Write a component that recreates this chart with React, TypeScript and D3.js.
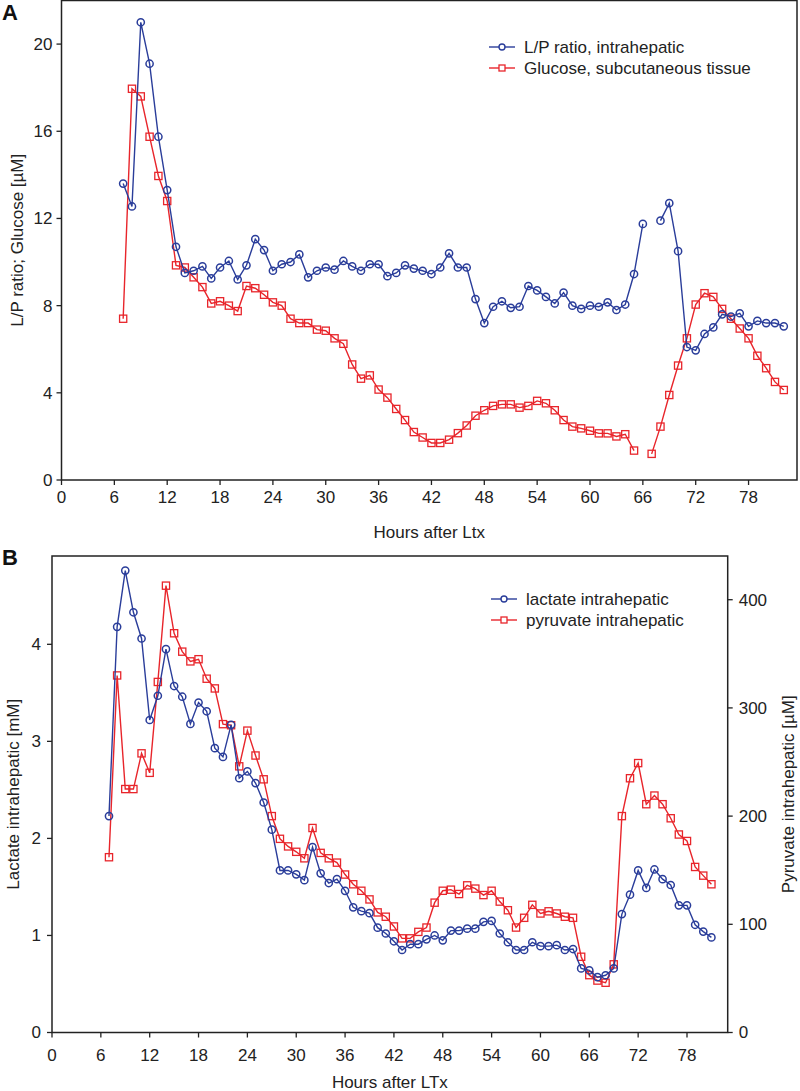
import React from "react";
import * as d3 from "d3";

const hoursA = [7,8,9,10,11,12,13,14,15,16,17,18,19,20,21,22,23,24,25,26,27,28,29,30,31,32,33,34,35,36,37,38,39,40,41,42,43,44,45,46,47,48,49,50,51,52,53,54,55,56,57,58,59,60,61,62,63,64,65,66,67,68,69,70,71,72,73,74,75,76,77,78,79,80,81,82];
const lpRatio: (number | null)[] = [13.6,12.55,21.0,19.1,15.75,13.3,10.7,9.5,9.6,9.8,9.25,9.75,10.05,9.2,9.85,11.05,10.55,9.6,9.9,10.0,10.35,9.3,9.6,9.75,9.65,10.05,9.8,9.6,9.9,9.9,9.35,9.5,9.85,9.7,9.6,9.45,9.75,10.4,9.75,9.75,8.3,7.2,7.95,8.2,7.9,7.95,8.9,8.7,8.4,8.1,8.6,8.0,7.85,8.0,7.95,8.15,7.8,8.05,9.45,11.75,null,11.9,12.7,10.5,6.1,5.95,6.7,7.0,7.6,7.5,7.65,7.05,7.3,7.2,7.2,7.05];
const glucose: (number | null)[] = [7.4,17.95,17.6,15.75,13.95,12.8,9.85,9.75,9.3,8.85,8.1,8.2,8.0,7.75,8.9,8.8,8.5,8.15,8.0,7.4,7.2,7.2,6.9,6.85,6.5,6.25,5.3,4.65,4.8,4.15,3.78,3.26,2.75,2.2,1.95,1.7,1.7,1.85,2.15,2.5,2.95,3.2,3.4,3.47,3.47,3.32,3.4,3.63,3.52,3.2,2.75,2.45,2.37,2.26,2.14,2.14,2.0,2.1,1.35,null,1.2,2.45,3.9,5.25,6.5,8.05,8.57,8.4,7.85,7.4,6.95,6.5,5.7,5.13,4.5,4.13];

const hoursB = [7,8,9,10,11,12,13,14,15,16,17,18,19,20,21,22,23,24,25,26,27,28,29,30,31,32,33,34,35,36,37,38,39,40,41,42,43,44,45,46,47,48,49,50,51,52,53,54,55,56,57,58,59,60,61,62,63,64,65,66,67,68,69,70,71,72,73,74,75,76,77,78,79,80,81];
const lactate: number[] = [2.23,4.18,4.76,4.33,4.06,3.22,3.47,3.95,3.57,3.46,3.18,3.4,3.31,2.93,2.84,3.17,2.62,2.69,2.57,2.37,2.09,1.67,1.67,1.63,1.57,1.91,1.64,1.54,1.58,1.46,1.29,1.25,1.23,1.08,1.02,0.94,0.85,0.91,0.91,0.96,1.0,0.95,1.05,1.05,1.07,1.07,1.14,1.15,1.02,0.93,0.85,0.85,0.93,0.89,0.89,0.9,0.85,0.86,0.66,0.64,0.57,0.59,0.66,1.22,1.42,1.67,1.49,1.68,1.58,1.52,1.31,1.31,1.11,1.04,0.98];
const pyruvate: number[] = [162,330,225,225,258,240,324,413,369,352,343,345,327,318,285,284,246,279,256,234,200,179,172,167,161,189,166,161,157,146,137,131,123,111,107,98,87,87,93,97,120,131,132,128,136,133,127,131,121,113,97,106,118,110,112,110,107,106,70,53,48,46,63,200,235,249,211,219,211,198,183,177,153,145,137];

const xTicks = [0,6,12,18,24,30,36,42,48,54,60,66,72,78];
const yTicksA = [0,4,8,12,16,20];
const yTicksBL = [0,1,2,3,4];
const yTicksBR = [0,100,200,300,400];

const BLUE = "#2a3d9a";
const RED = "#e8252b";
const AX = "#222";
const FONT = "'Liberation Sans', Arial, sans-serif";
const FS = 17;

type P = { h: number; v: number | null };

function Series({ pts, x, y, color, kind }: { pts: P[]; x: d3.ScaleLinear<number, number>; y: d3.ScaleLinear<number, number>; color: string; kind: "circle" | "square" }) {
  const line = d3.line<P>().defined(d => d.v != null).x(d => x(d.h)).y(d => y(d.v as number));
  return (
    <g>
      <path d={line(pts) || ""} fill="none" stroke={color} strokeWidth={1.4} />
      {pts.filter(d => d.v != null).map((d, i) =>
        kind === "circle" ? (
          <circle key={i} cx={x(d.h)} cy={y(d.v as number)} r={3.6} fill="none" stroke={color} strokeWidth={1.5} />
        ) : (
          <rect key={i} x={x(d.h) - 3.6} y={y(d.v as number) - 3.6} width={7.2} height={7.2} fill="none" stroke={color} strokeWidth={1.3} />
        )
      )}
    </g>
  );
}

function Legend({ x, y, items }: { x: number; y: number; items: { label: string; color: string; kind: string }[] }) {
  return (
    <g>
      {items.map((it, i) => (
        <g key={i} transform={`translate(${x},${y + i * 21})`}>
          <line x1={0} x2={26} y1={0} y2={0} stroke={it.color} strokeWidth={1.4} />
          {it.kind === "circle" ? (
            <circle cx={13} cy={0} r={3} fill="#fff" stroke={it.color} strokeWidth={1.4} />
          ) : (
            <rect x={10} y={-3} width={6} height={6} fill="#fff" stroke={it.color} strokeWidth={1.3} />
          )}
          <text x={35} y={0} dy="0.35em" fontSize={FS} fontFamily={FONT} fill={AX}>{it.label}</text>
        </g>
      ))}
    </g>
  );
}

export default function App() {
  // Panel A
  const xA = d3.scaleLinear().domain([0, 83.5]).range([61.5, 797]);
  const yA = d3.scaleLinear().domain([0, 22]).range([480, 0.5]);
  // Panel B
  const xB = d3.scaleLinear().domain([0, 83]).range([52, 727.7]);
  const yBL = d3.scaleLinear().domain([0, 4.91]).range([1032.5, 556]);
  const yBR = d3.scaleLinear().domain([0, 440.4]).range([1032.5, 556]);

  const lpPts = hoursA.map((h, i) => ({ h, v: lpRatio[i] }));
  const gluPts = hoursA.map((h, i) => ({ h, v: glucose[i] }));
  const lacPts = hoursB.map((h, i) => ({ h, v: lactate[i] }));
  const pyrPts = hoursB.map((h, i) => ({ h, v: pyruvate[i] }));

  const txt = { fontSize: FS, fontFamily: FONT, fill: AX } as const;

  return (
    <svg width={800} height={1091} style={{ position: "absolute", left: 0, top: 0, background: "#fff" }}>
      <rect x={0} y={0} width={800} height={1091} fill="#fff" />
      {/* Panel A */}
      <text x={2} y={20} fontSize={22} fontWeight="bold" fontFamily={FONT} fill="#111">A</text>
      <rect x={xA(0)} y={yA(22)} width={xA(83.5) - xA(0)} height={yA(0) - yA(22)} fill="none" stroke={AX} strokeWidth={1.5} />
      {xTicks.map(t => (
        <g key={t}>
          <line x1={xA(t)} x2={xA(t)} y1={yA(0)} y2={yA(0) + 5} stroke={AX} strokeWidth={1.3} />
          <text x={xA(t)} y={yA(0) + 23} textAnchor="middle" {...txt}>{t}</text>
        </g>
      ))}
      {yTicksA.map(t => (
        <g key={t}>
          <line x1={xA(0) - 5} x2={xA(0)} y1={yA(t)} y2={yA(t)} stroke={AX} strokeWidth={1.3} />
          <text x={xA(0) - 9} y={yA(t)} dy="0.35em" textAnchor="end" {...txt}>{t}</text>
        </g>
      ))}
      <text x={(xA(0) + xA(83.5)) / 2} y={538} textAnchor="middle" {...txt}>Hours after Ltx</text>
      <text transform={`translate(23,${(yA(0) + yA(22)) / 2}) rotate(-90)`} textAnchor="middle" {...txt}>L/P ratio; Glucose [µM]</text>
      <Series pts={gluPts} x={xA} y={yA} color={RED} kind="square" />
      <Series pts={lpPts} x={xA} y={yA} color={BLUE} kind="circle" />
      <Legend x={489} y={47} items={[{ label: "L/P ratio, intrahepatic", color: BLUE, kind: "circle" }, { label: "Glucose, subcutaneous tissue", color: RED, kind: "square" }]} />

      {/* Panel B */}
      <text x={2} y={565} fontSize={22} fontWeight="bold" fontFamily={FONT} fill="#111">B</text>
      <rect x={xB(0)} y={556} width={xB(83) - xB(0)} height={1032.5 - 556} fill="none" stroke={AX} strokeWidth={1.5} />
      {xTicks.map(t => (
        <g key={t}>
          <line x1={xB(t)} x2={xB(t)} y1={yBL(0)} y2={yBL(0) + 5} stroke={AX} strokeWidth={1.3} />
          <text x={xB(t)} y={yBL(0) + 28} textAnchor="middle" {...txt}>{t}</text>
        </g>
      ))}
      {yTicksBL.map(t => (
        <g key={t}>
          <line x1={xB(0) - 5} x2={xB(0)} y1={yBL(t)} y2={yBL(t)} stroke={AX} strokeWidth={1.3} />
          <text x={xB(0) - 11} y={yBL(t)} dy="0.35em" textAnchor="end" {...txt}>{t}</text>
        </g>
      ))}
      {yTicksBR.map(t => (
        <g key={t}>
          <line x1={xB(83)} x2={xB(83) + 5} y1={yBR(t)} y2={yBR(t)} stroke={AX} strokeWidth={1.3} />
          <text x={xB(83) + 11} y={yBR(t)} dy="0.35em" textAnchor="start" {...txt}>{t}</text>
        </g>
      ))}
      <text x={(xB(0) + xB(83)) / 2} y={1088} textAnchor="middle" {...txt}>Hours after LTx</text>
      <text transform={`translate(19,${(yBL(0) + yBL(4.91)) / 2}) rotate(-90)`} textAnchor="middle" {...txt}>Lactate intrahepatic [mM]</text>
      <text transform={`translate(794,${(yBL(0) + yBL(4.91)) / 2}) rotate(-90)`} textAnchor="middle" {...txt}>Pyruvate intrahepatic [µM]</text>
      <Series pts={pyrPts} x={xB} y={yBR} color={RED} kind="square" />
      <Series pts={lacPts} x={xB} y={yBL} color={BLUE} kind="circle" />
      <Legend x={491} y={599} items={[{ label: "lactate intrahepatic", color: BLUE, kind: "circle" }, { label: "pyruvate intrahepatic", color: RED, kind: "square" }]} />
    </svg>
  );
}
